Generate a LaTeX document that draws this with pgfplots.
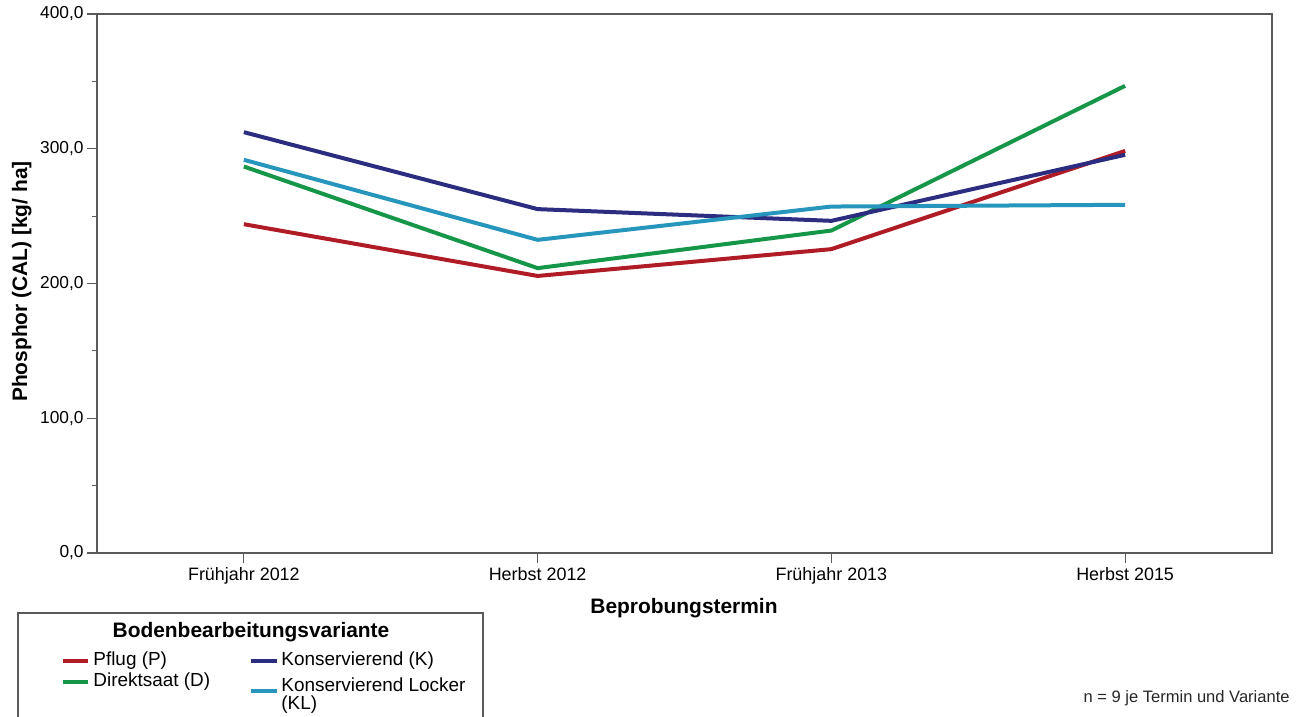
\documentclass[border=0pt]{standalone}
\usepackage{pgfplots}
\pgfplotsset{compat=1.18}
\usepackage{fontspec}
\setmainfont{Liberation Sans}
\definecolor{cP}{RGB}{176,28,38}
\definecolor{cD}{RGB}{22,150,72}
\definecolor{cK}{RGB}{44,44,128}
\definecolor{cKL}{RGB}{38,150,188}
\definecolor{axc}{RGB}{90,90,90}
\begin{document}
\begin{tikzpicture}[x=1bp,y=1bp]
\useasboundingbox (0,0) rectangle (653,358);
\clip (0,0) rectangle (653,358);
\begin{axis}[
  at={(48.5bp,81.5bp)}, anchor=south west,
  scale only axis, width=587.5bp, height=269.5bp,
  xmin=-0.5, xmax=3.5, ymin=0, ymax=400,
  xtick={0,1,2,3},
  xticklabels={Frühjahr 2012, Herbst 2012, Frühjahr 2013, Herbst 2015},
  ytick={0,100,200,300,400}, minor y tick num=1,
  tick align=outside, xtick pos=bottom, ytick pos=left,
  major tick length=5bp, minor tick length=2.5bp,
  axis line style={draw=axc, line width=0.6bp},
  every tick/.style={draw=axc, line width=0.6bp},
  every minor tick/.style={draw=axc, line width=0.6bp},
  yticklabel style={font=\fontsize{8.7}{10}\selectfont, inner sep=1.5bp},
  xticklabel style={font=\fontsize{9}{10}\selectfont, inner sep=2bp},
  /pgf/number format/.cd, fixed, fixed zerofill, precision=1, use comma, assume math mode=true,
]
\addplot[cP, line width=2bp] coordinates {(0,244.0) (1,205.6) (2,225.5) (3,298.4)};
\addplot[cD, line width=2bp] coordinates {(0,286.8) (1,211.4) (2,239.3) (3,346.7)};
\addplot[cK, line width=2bp] coordinates {(0,312.3) (1,255.2) (2,246.5) (3,295.5)};
\addplot[cKL, line width=2bp] coordinates {(0,291.8) (1,232.4) (2,257.1) (3,258.4)};
\end{axis}
\node[rotate=90, font=\fontsize{10.5}{12}\bfseries\selectfont] at (10.85,217.25) {Phosphor (CAL) [kg/ ha]};
\node[font=\fontsize{10.5}{12}\bfseries\selectfont] at (342,54) {Beprobungstermin};
% legend
\draw[axc, line width=0.6bp] (9,-5) rectangle (241.5,51.5);
\node[font=\fontsize{10.5}{12}\bfseries\selectfont] at (125.5,42) {Bodenbearbeitungsvariante};
\draw[cP, line width=1.75bp] (31.5,27.5) -- (44,27.5);
\node[anchor=west, inner sep=0pt, font=\fontsize{9.5}{11}\selectfont] at (46.5,27.5) {Pflug (P)};
\draw[cD, line width=1.75bp] (31.5,17) -- (44,17);
\node[anchor=west, inner sep=0pt, font=\fontsize{9.5}{11}\selectfont] at (46.5,17) {Direktsaat (D)};
\draw[cK, line width=1.75bp] (125.5,27.5) -- (138.5,27.5);
\node[anchor=west, inner sep=0pt, font=\fontsize{9.5}{11}\selectfont] at (140.5,27.5) {Konservierend (K)};
\draw[cKL, line width=1.75bp] (125.5,12.5) -- (138.5,12.5);
\node[anchor=west, inner sep=0pt, font=\fontsize{9.5}{11}\selectfont] at (140.5,15.5) {Konservierend Locker};
\node[anchor=west, inner sep=0pt, font=\fontsize{9.5}{11}\selectfont] at (140.5,5.5) {(KL)};
\node[anchor=east, inner sep=0pt, font=\fontsize{8.3}{10}\selectfont, text=black!85] at (645,9) {n = 9 je Termin und Variante};
\end{tikzpicture}
\end{document}
